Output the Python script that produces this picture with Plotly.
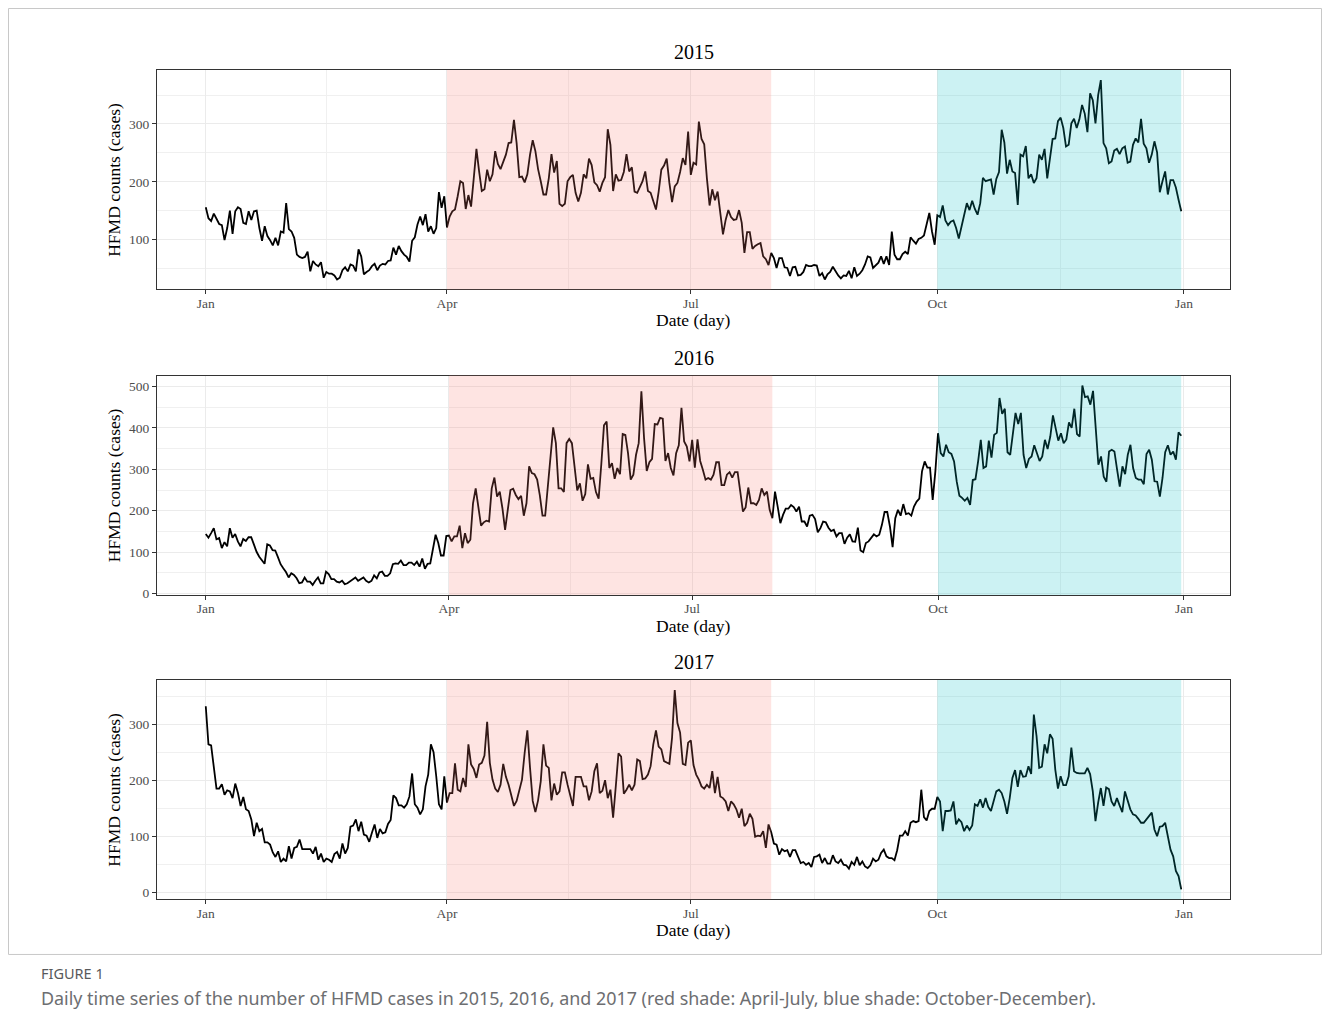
import pandas as pd
import plotly.graph_objects as go

# ---------------- data (daily HFMD counts) ----------------
q1_2015 = [156,137,132,145,136,127,125,99,120,150,
           110,149,156,153,129,127,149,134,149,150,
           120,98,123,106,99,90,103,90,114,112,
           163,118,114,103,74,70,68,70,79,45,
           63,57,54,61,34,44,41,41,38,31,
           34,47,52,45,57,55,45,83,71,40,
           44,47,54,58,47,55,58,57,63,64,
           86,74,89,80,74,70,62,98,104,126,
           140,125,144,114,123,110,120,182,155,175]
q2_2015 = [121,140,149,152,175,201,198,153,177,157,
           206,257,218,184,187,221,201,213,253,231,
           222,233,247,267,268,307,267,208,209,199,
           213,247,272,253,222,201,178,178,206,248,
           216,236,162,158,162,201,208,212,181,166,
           181,213,206,240,229,199,194,183,198,208,
           291,264,184,213,202,203,217,248,218,225,
           183,181,190,201,218,184,181,166,152,183,
           221,228,240,198,165,192,198,217,241,229,
           287]
q3_2015 = [212,233,230,304,274,265,206,159,187,168,
           183,141,109,134,151,139,134,135,151,129,
           77,113,113,84,89,92,94,71,66,56,
           77,68,51,68,68,52,51,37,52,53,
           38,39,44,56,54,54,56,55,37,42,
           31,40,44,53,45,38,33,38,37,46,
           33,52,37,41,47,57,71,69,51,55,
           60,71,58,71,56,114,74,66,66,75,
           79,75,104,98,93,101,103,107,126,146,
           114,91]
q4_2015 = [142,139,159,133,125,131,133,120,102,123,
           145,163,151,167,153,143,163,207,201,202,
           204,178,205,217,290,268,214,238,218,215,
           160,247,244,262,206,213,198,206,247,238,
           257,206,241,274,275,305,311,293,261,264,
           301,309,293,308,333,318,286,353,341,301,
           350,376,267,258,232,235,254,257,248,258,
           261,233,235,264,275,268,309,266,258,233,
           247,270,251,182,201,218,178,203,203,190,
           169,149]

q1_2016 = [144,135,146,158,131,134,110,124,114,158,
           135,144,126,114,132,127,136,136,119,101,
           89,81,72,119,116,105,104,88,71,61,
           52,39,49,45,37,25,27,39,29,29,
           21,31,39,25,25,53,47,35,35,29,
           27,31,23,25,29,33,39,31,35,39,
           31,27,31,44,37,51,53,43,43,49,
           71,73,72,80,69,69,75,75,69,77,
           65,85,60,72,73,105,142,122,92,92,
           139]
q2_2016 = [140,126,138,138,164,110,146,122,130,218,
           254,210,164,172,176,174,254,280,234,246,
           206,154,200,250,253,238,228,236,188,218,
           307,291,288,275,237,188,188,254,323,401,
           363,254,254,245,363,373,363,307,249,266,
           224,240,312,277,279,245,229,312,406,415,
           303,315,277,303,288,385,383,339,275,287,
           335,363,488,375,296,317,325,409,408,424,
           422,320,339,303,285,339,358,448,367,355,
           319]
q3_2016 = [371,304,372,320,299,275,279,275,287,317,
           317,262,262,287,293,280,293,293,246,198,
           208,256,218,218,214,226,254,238,246,202,
           182,246,210,170,190,205,205,214,209,198,
           210,174,174,162,188,190,180,148,158,174,
           172,159,151,154,138,146,146,120,135,143,
           126,125,159,104,100,122,126,134,143,138,
           142,166,197,197,162,112,182,202,188,216,
           192,194,188,210,222,229,295,319,304,304,
           226,295]
q4_2016 = [387,339,331,359,341,337,319,270,236,231,
           224,231,214,274,276,319,371,303,307,369,
           328,383,388,472,434,446,341,335,383,436,
           409,436,335,303,325,331,358,339,320,331,
           371,349,379,430,400,369,387,363,372,413,
           400,446,385,379,502,474,476,456,489,391,
           311,331,282,270,343,347,343,299,258,307,
           288,335,359,303,279,275,275,264,337,347,
           323,271,270,234,279,341,358,335,343,323,
           389,381]

q1_2017 = [332,264,262,225,185,185,193,174,182,180,
           168,194,177,154,170,148,145,130,100,124,
           109,113,89,89,85,71,63,73,54,60,
           55,82,60,79,81,94,77,77,77,77,
           69,81,58,69,54,60,58,54,68,72,
           60,87,69,79,117,119,130,109,126,103,
           101,90,106,121,97,113,105,107,122,129,
           173,168,155,155,151,157,171,212,157,151,
           139,148,189,210,264,250,207,157,148,207]
q2_2017 = [160,177,177,230,183,180,204,188,264,228,
           220,204,228,231,244,304,231,201,185,179,
           192,229,206,192,173,154,163,183,201,249,
           289,222,163,143,164,198,264,226,222,164,
           194,174,180,214,214,192,173,154,206,206,
           206,189,189,164,180,216,230,177,181,200,
           168,183,133,189,248,242,176,183,192,182,
           192,237,234,202,203,210,225,264,289,260,
           255,234,232,229,276,361,302,285,229,227,
           267]
q3_2017 = [271,227,210,201,189,185,192,186,216,177,
           206,171,168,162,145,162,157,148,133,149,
           118,124,140,131,99,101,100,109,79,121,
           107,87,85,67,77,73,75,63,75,75,
           64,52,54,49,52,45,63,64,67,52,
           61,51,51,66,55,52,58,49,48,42,
           54,49,63,48,55,46,43,48,60,55,
           58,70,76,64,61,61,57,75,101,101,
           109,101,124,127,125,127,183,134,128,145,
           149,149]
q4_2017 = [170,162,109,145,145,146,162,121,130,125,
           109,119,111,119,157,154,166,151,168,152,
           145,162,180,183,177,162,140,168,204,218,
           188,218,206,207,225,211,317,279,222,
           224,264,248,282,274,219,185,207,191,191,
           207,258,216,213,212,212,212,222,211,180,
           127,160,186,154,187,184,162,154,168,155,
           143,180,162,148,139,137,131,124,124,130,
           136,142,112,100,117,118,124,97,76,64,
           38,29,5]

years = [2015, 2016, 2017]
quarters = {
    2015: [q1_2015, q2_2015, q3_2015, q4_2015],
    2016: [q1_2016, q2_2016, q3_2016, q4_2016],
    2017: [q1_2017, q2_2017, q3_2017, q4_2017],
}
quarter_starts = ["01-01", "04-01", "07-01", "10-01"]
month_tick_labels = ["Jan", "Apr", "Jul", "Oct", "Jan"]
y_tick_values = {2015: [100, 200, 300],
                 2016: [0, 100, 200, 300, 400, 500],
                 2017: [0, 100, 200, 300]}
shade_periods = [("04-01", "07-31", "#F8766D"), ("10-01", "12-31", "#00BFC4")]
x_title = "Date (day)"
y_title = "HFMD counts (cases)"
caption_label = "FIGURE 1"
caption_text = ("Daily time series of the number of HFMD cases in 2015, 2016, and 2017 "
                "(red shade: April-July, blue shade: October-December).")

# ---------------- layout geometry (screen pixels) ----------------
OFF = 8                      # page body margin places the figure at (8, 8)
W, H = 1330 - OFF, 1030 - OFF
VSCALE = 0.9926              # measured vertical scale of the captured page
X0, X1 = 157, 1230
panel_rows = [(70, 289), (375, 594), (679, 898)]
SERIF = "Liberation Serif"
SANS = "Noto Sans"


def fx(px):
    return (px - OFF) / W


def fy(py):
    return 1 - (py - OFF) / (H * VSCALE)


fig = go.Figure()
shapes = []
annotations = []
layout_axes = {}

for i, yr in enumerate(years):
    s = "" if i == 0 else str(i + 1)
    xs, ys = [], []
    for qs, vals in zip(quarter_starts, quarters[yr]):
        d = pd.date_range(f"{yr}-{qs}", periods=len(vals), freq="D")
        xs.extend(d)
        ys.extend(vals)
    fig.add_trace(go.Scatter(x=xs, y=ys, mode="lines",
                             line=dict(color="black", width=1.8),
                             xaxis="x" + s, yaxis="y" + s,
                             showlegend=False, hoverinfo="skip"))

    start = pd.Timestamp(f"{yr}-01-01")
    end = pd.Timestamp(f"{yr}-12-31")
    span = end - start
    xr = [start - 0.05 * span, end + 0.05 * span]
    majors = [pd.Timestamp(f"{yr}-01-01"), pd.Timestamp(f"{yr}-04-01"),
              pd.Timestamp(f"{yr}-07-01"), pd.Timestamp(f"{yr}-10-01"),
              pd.Timestamp(f"{yr + 1}-01-01")]
    minors = [a + (b - a) / 2 for a, b in zip(majors[:-1], majors[1:])]

    ymin, ymax = min(ys), max(ys)
    yspan = ymax - ymin
    yr_range = [ymin - 0.05 * yspan, ymax + 0.05 * yspan]
    yt = y_tick_values[yr]
    ystep = yt[1] - yt[0]
    yminor = [v + ystep / 2 for v in [yt[0] - ystep] + yt]
    yminor = [v for v in yminor if yr_range[0] <= v <= yr_range[1]]

    top, bot = panel_rows[i]
    common = dict(showline=True, mirror=True, linecolor="#333333", linewidth=1,
                  zeroline=False, ticks="outside", ticklen=4, tickwidth=1,
                  tickcolor="#333333", showgrid=True, gridcolor="#EBEBEB",
                  gridwidth=1.2,
                  tickfont=dict(family=SERIF, size=13.5, color="#4D4D4D"))
    layout_axes["xaxis" + s] = dict(
        common, type="date", domain=[fx(X0), fx(X1)], anchor="y" + s,
        range=xr, tickmode="array", ticklabelstandoff=-3,
        tickvals=[m.strftime("%Y-%m-%d") for m in majors],
        ticktext=month_tick_labels,
        minor=dict(tickmode="array",
                   tickvals=[m.strftime("%Y-%m-%d %H:%M") for m in minors],
                   showgrid=True, gridcolor="#F0F0F0", gridwidth=0.8, ticks=""))
    layout_axes["yaxis" + s] = dict(
        common, domain=[fy(bot), fy(top)], anchor="x" + s, range=yr_range,
        tickmode="array", tickvals=yt, ticktext=[str(v) for v in yt],
        minor=dict(tickmode="array", tickvals=yminor, showgrid=True,
                   gridcolor="#F0F0F0", gridwidth=0.8, ticks=""))

    for a, b, col in shade_periods:
        shapes.append(dict(type="rect", xref="x" + s, yref="y" + s + " domain",
                           x0=f"{yr}-{a}", x1=f"{yr}-{b}", y0=0, y1=1,
                           fillcolor=col, opacity=0.2, line=dict(width=0),
                           layer="above"))

    annotations.append(dict(text=str(yr), xref="paper", yref="paper",
                            x=fx((X0 + X1) / 2), y=fy(top - 18),
                            xanchor="center", yanchor="middle", showarrow=False,
                            font=dict(family=SERIF, size=20, color="black")))
    annotations.append(dict(text=x_title, xref="paper", yref="paper",
                            x=fx((X0 + X1) / 2), y=fy(bot + 31),
                            xanchor="center", yanchor="middle", showarrow=False,
                            font=dict(family=SERIF, size=17.5, color="black")))
    annotations.append(dict(text=y_title, xref="paper", yref="paper",
                            x=fx(114), y=fy((top + bot) / 2), textangle=-90,
                            xanchor="center", yanchor="middle", showarrow=False,
                            font=dict(family=SERIF, size=17.5, color="black")))

annotations.append(dict(text=caption_label, xref="paper", yref="paper",
                        x=fx(38.5), y=fy(972), xanchor="left", yanchor="middle",
                        showarrow=False,
                        font=dict(family=SANS, size=14.5, color="#58595B")))
annotations.append(dict(text=caption_text, xref="paper", yref="paper",
                        x=fx(38.5), y=fy(996), xanchor="left", yanchor="middle",
                        showarrow=False,
                        font=dict(family=SANS, size=17.9, color="#6D6E71")))

shapes.append(dict(type="rect", xref="paper", yref="paper",
                   x0=fx(8.5), x1=fx(1321.5), y0=fy(953), y1=fy(8.5),
                   line=dict(color="#C8C8C8", width=1), fillcolor="rgba(0,0,0,0)",
                   layer="below"))

fig.update_layout(width=W, height=H, margin=dict(l=0, r=0, t=0, b=0),
                  paper_bgcolor="white", plot_bgcolor="white",
                  shapes=shapes, annotations=annotations, **layout_axes)

fig.write_html("out.html")
